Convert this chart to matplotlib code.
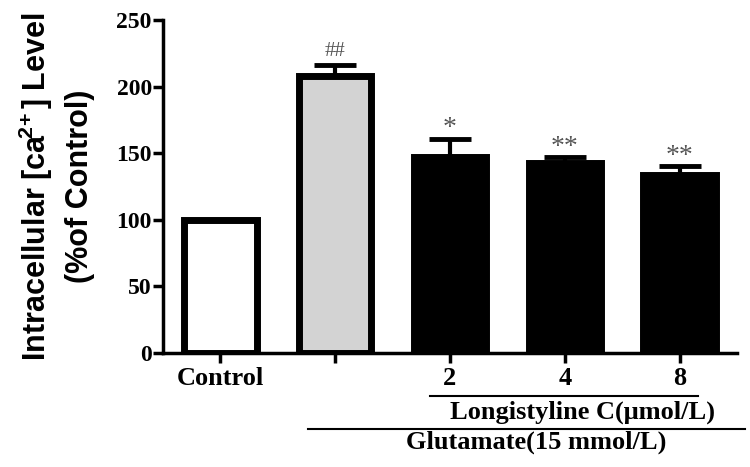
import matplotlib
matplotlib.use("Agg")
import matplotlib.pyplot as plt
import numpy as np

plt.rcParams["mathtext.fontset"] = "custom"
plt.rcParams["mathtext.rm"] = "Liberation Sans:bold"
plt.rcParams["mathtext.bf"] = "Liberation Sans:bold"
plt.rcParams["mathtext.it"] = "Liberation Sans:bold"

# Data
categories = ["Control", "Glutamate", "2", "4", "8"]
tick_labels = ["Control", "", "2", "4", "8"]
values = [100, 208, 147, 143, 133.5]
errors = [0, 8, 14, 4, 7]
marks = ["", "##", "*", "**", "**"]
fills = ["white", "#d3d3d3", "black", "black", "black"]

fig = plt.figure(figsize=(7.5, 4.67), dpi=100)
ax = fig.add_axes([0.2173, 0.2441, 0.9827 - 0.2173, 0.9572 - 0.2441])

x = np.arange(len(categories))
ax.bar(x, values, width=0.63, color=fills, edgecolor="black", linewidth=5, zorder=2)
for xi, v, e in zip(x, values, errors):
    if e > 0:
        ax.errorbar(xi, v, yerr=[[0], [e]], fmt="none", ecolor="black",
                    elinewidth=3, capsize=15, capthick=3.5, zorder=3)
for xi, v, e, m in zip(x, values, errors, marks):
    if m:
        star = "*" in m
        ax.text(xi, v + e + (-2 if star else 3), m, ha="center", va="bottom",
                color="#555555", fontsize=20 if star else 15,
                family="Liberation Serif")

ax.set_xlim(-0.5, 4.5)
ax.set_ylim(0, 250)
ax.set_yticks([0, 50, 100, 150, 200, 250])
ax.set_xticks(x)
ax.set_xticklabels(tick_labels)
for lab in ax.get_yticklabels():
    lab.set_family("Liberation Serif")
    lab.set_fontweight("bold")
    lab.set_fontsize(17)
for lab in ax.get_xticklabels():
    lab.set_family("Liberation Serif")
    lab.set_fontweight("bold")
    lab.set_fontsize(19)
ax.tick_params(axis="y", direction="out", length=7, width=2.5, pad=1)
ax.tick_params(axis="x", direction="out", length=7, width=2.5, pad=3)
for s in ["top", "right"]:
    ax.spines[s].set_visible(False)
for s in ["left", "bottom"]:
    ax.spines[s].set_linewidth(2.5)

ax.set_ylabel("Intracellular [ca$^{\\!2\\!+}$] Level\n(%of Control)",
              family="Liberation Sans", fontweight="bold", fontsize=22,
              linespacing=1.45)
ax.yaxis.set_label_coords(-0.118, 0.5)

# group brackets
fig.add_artist(plt.Line2D([430/750, 698/750], [1-396/467, 1-396/467], color="black", lw=1.5))
fig.add_artist(plt.Line2D([308/750, 745/750], [1-429/467, 1-429/467], color="black", lw=1.5))
fig.text(583/750, 1-412/467, "Longistyline C(μmol/L)", ha="center", va="center",
         family="Liberation Serif", fontweight="bold", fontsize=19)
fig.text(536/750, 1-442/467, "Glutamate(15 mmol/L)", ha="center", va="center",
         family="Liberation Serif", fontweight="bold", fontsize=19)

fig.savefig("out.png", dpi=100)
